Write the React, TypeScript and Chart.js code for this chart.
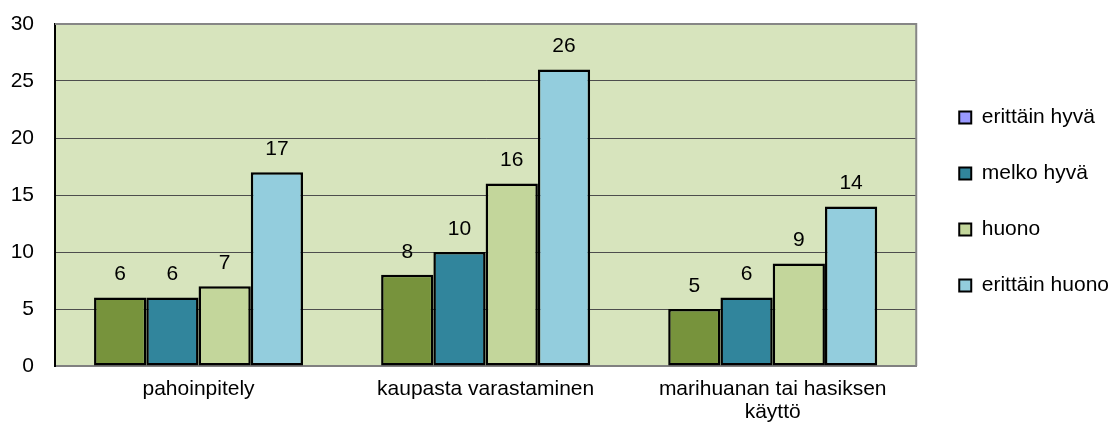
import React, { useEffect, useRef } from "react";
import { Chart, registerables } from "chart.js";

Chart.register(...registerables);

const categories: (string | string[])[] = [
  "pahoinpitely",
  "kaupasta varastaminen",
  ["marihuanan tai hasiksen", "käyttö"],
];
const seriesNames = ["erittäin hyvä", "melko hyvä", "huono", "erittäin huono"];
const erittainHyva = [6, 8, 5];
const melkoHyva = [6, 10, 6];
const huono = [7, 16, 9];
const erittainHuono = [17, 26, 14];
const barColors = ["#77933C", "#31859C", "#C3D69B", "#93CDDD"];
const legendColors = ["#9999FF", "#31859C", "#C3D69B", "#93CDDD"];
const yTicks = [0, 5, 10, 15, 20, 25, 30];

const FONT = "'Liberation Sans', Arial, sans-serif";

const plotBg = {
  id: "plotBg",
  beforeDraw(chart: any) {
    const { ctx, chartArea: a } = chart;
    ctx.save();
    ctx.fillStyle = "#D7E4BD";
    ctx.fillRect(a.left, a.top, a.right - a.left, a.bottom - a.top);
    ctx.restore();
  },
  beforeDatasetsDraw(chart: any) {
    const { ctx, chartArea: a } = chart;
    ctx.save();
    ctx.strokeStyle = "#868686";
    ctx.lineWidth = 2;
    ctx.beginPath();
    ctx.moveTo(a.left, a.top);
    ctx.lineTo(a.right, a.top);
    ctx.lineTo(a.right, a.bottom);
    ctx.stroke();
    ctx.restore();
  },
};

const valueLabels = {
  id: "valueLabels",
  afterDatasetsDraw(chart: any) {
    const { ctx } = chart;
    ctx.save();
    ctx.font = `21px ${FONT}`;
    ctx.fillStyle = "#000";
    ctx.textAlign = "center";
    ctx.textBaseline = "middle";
    chart.data.datasets.forEach((ds: any, di: number) => {
      const meta = chart.getDatasetMeta(di);
      meta.data.forEach((bar: any, i: number) => {
        ctx.fillText(String(ds.data[i]), bar.x, bar.y - 23);
      });
    });
    ctx.restore();
  },
};

const legendShift = {
  id: "legendShift",
  afterLayout(chart: any) {
    const l = chart.legend;
    if (!l) return;
    const dx = 8;
    const dy = -23;
    l.left += dx;
    l.right += dx;
    l.top += dy;
    l.bottom += dy;
  },
};

export default function App() {
  const ref = useRef<HTMLCanvasElement>(null);
  useEffect(() => {
    const values = [erittainHyva, melkoHyva, huono, erittainHuono];
    const chart = new Chart(ref.current!, {
      type: "bar",
      data: {
        labels: categories,
        datasets: seriesNames.map((name, i) => ({
          label: name,
          data: values[i],
          backgroundColor: barColors[i],
          borderColor: "#000",
          borderWidth: 2.5,
          borderSkipped: false,
          categoryPercentage: 0.728,
          barPercentage: 1,
        })),
      },
      options: {
        animation: false,
        responsive: false,
        layout: { padding: { top: 24, right: 6, left: 0, bottom: 0 } },
        plugins: {
          tooltip: { enabled: false },
          legend: {
            position: "right",
            align: "center",
            labels: {
              font: { size: 21, family: FONT },
              color: "#000",
              boxWidth: 12,
              boxHeight: 12,
              padding: 35,
              generateLabels: () =>
                seriesNames.map((name, i) => ({
                  text: name,
                  fillStyle: legendColors[i],
                  strokeStyle: "#000",
                  lineWidth: 2,
                  hidden: false,
                  datasetIndex: i,
                })),
            },
          },
        },
        scales: {
          x: {
            grid: { display: false, drawTicks: false },
            border: { display: true, color: "#808080", width: 2 },
            ticks: {
              font: { size: 21, family: FONT, lineHeight: 1.1 },
              color: "#000",
              padding: 12,
              maxRotation: 0,
              autoSkip: false,
            },
            afterFit: (s: any) => {
              s.height = 59;
            },
          },
          y: {
            min: 0,
            max: 30,
            grid: {
              color: "#4d4d4d",
              lineWidth: 1,
              drawTicks: true,
              tickLength: 21,
              tickColor: "rgba(0,0,0,0)",
            },
            border: { display: true, color: "#000", width: 2 },
            afterBuildTicks: (s: any) => {
              s.ticks = yTicks.map((v) => ({ value: v }));
            },
            ticks: {
              font: { size: 21, family: FONT },
              color: "#000",
              padding: 0,
            },
            afterFit: (s: any) => {
              s.width = 55;
            },
          },
        },
      },
      plugins: [plotBg, valueLabels, legendShift],
    });
    return () => chart.destroy();
  }, []);
  return (
    <div style={{ position: "absolute", left: 0, top: 0, width: 1117, height: 425, background: "#fff" }}>
      <canvas ref={ref} width={1117} height={425} />
    </div>
  );
}
